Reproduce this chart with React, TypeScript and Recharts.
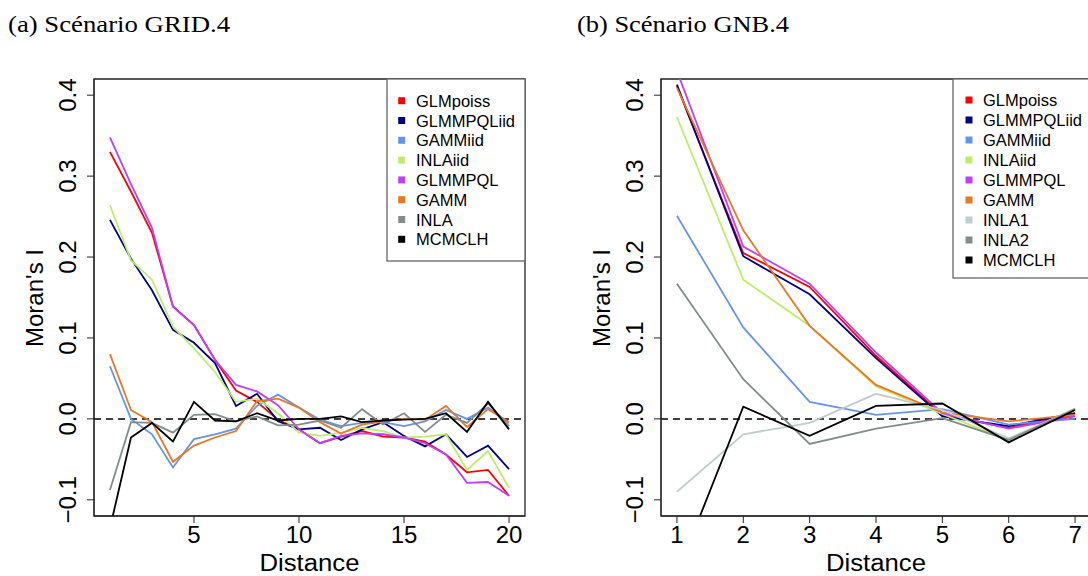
import React from 'react';
import { LineChart, Line, XAxis, YAxis, ReferenceLine, ReferenceArea } from 'recharts';

// ---------- Panel (a) : Scénario GRID.4 ----------
const distanceA = [1, 2, 3, 4, 5, 6, 7, 8, 9, 10, 11, 12, 13, 14, 15, 16, 17, 18, 19, 20];
const glmPoissA = [0.330, 0.281, 0.230, 0.139, 0.116, 0.073, 0.035, 0.021, -0.001, -0.013, -0.030, -0.022, -0.015, -0.022, -0.023, -0.028, -0.044, -0.066, -0.063, -0.095];
const glmmPqlIidA = [0.246, 0.198, 0.159, 0.110, 0.094, 0.069, 0.016, 0.031, -0.003, -0.013, -0.011, -0.026, -0.013, -0.004, -0.021, -0.034, -0.019, -0.047, -0.033, -0.062];
const gammIidA = [0.065, 0.000, -0.019, -0.060, -0.025, -0.019, -0.012, 0.016, 0.030, 0.014, -0.001, -0.009, -0.005, -0.004, -0.009, -0.003, 0.011, 0.000, 0.014, -0.005];
const inlaIidA = [0.264, 0.196, 0.172, 0.114, 0.087, 0.058, 0.021, 0.025, 0.007, -0.017, -0.021, -0.017, -0.011, -0.015, -0.023, -0.022, -0.019, -0.063, -0.040, -0.085];
const glmmPqlA = [0.348, 0.290, 0.236, 0.139, 0.116, 0.073, 0.042, 0.034, 0.017, -0.013, -0.030, -0.021, -0.018, -0.019, -0.023, -0.030, -0.044, -0.079, -0.078, -0.095];
const gammA = [0.080, 0.011, -0.004, -0.053, -0.033, -0.023, -0.015, 0.022, 0.025, 0.014, -0.004, -0.018, -0.007, -0.003, 0.000, -0.001, 0.016, -0.010, 0.012, -0.004];
const inlaA = [-0.088, -0.004, -0.005, -0.017, 0.005, 0.006, -0.003, 0.003, -0.008, -0.007, -0.002, -0.011, 0.012, -0.007, 0.007, -0.016, 0.005, -0.005, 0.019, -0.009];
const mcmclhA = [-0.135, -0.023, -0.005, -0.028, 0.021, -0.002, -0.003, 0.007, -0.002, 0.000, 0.000, 0.003, -0.004, -0.002, -0.001, 0.000, 0.007, -0.016, 0.021, -0.013];

// ---------- Panel (b) : Scénario GNB.4 ----------
const distanceB = [1, 2, 3, 4, 5, 6, 7];
const glmPoissB = [0.411, 0.205, 0.163, 0.078, 0.005, -0.011, 0.005];
const glmmPqlIidB = [0.413, 0.201, 0.154, 0.075, 0.003, -0.009, 0.007];
const gammIidB = [0.251, 0.113, 0.021, 0.005, 0.012, -0.007, 0.000];
const inlaIidB = [0.373, 0.172, 0.115, 0.040, 0.006, -0.026, 0.013];
const glmmPqlB = [0.430, 0.213, 0.167, 0.082, 0.007, -0.012, 0.003];
const gammB = [0.409, 0.233, 0.115, 0.042, 0.008, -0.003, 0.005];
const inla1B = [-0.090, -0.019, -0.005, 0.031, 0.011, -0.024, 0.012];
const inla2B = [0.167, 0.049, -0.031, -0.012, 0.001, -0.026, 0.012];
const mcmclhB = [-0.192, 0.015, -0.021, 0.016, 0.019, -0.029, 0.011];

const yTicks = [-0.1, 0.0, 0.1, 0.2, 0.3, 0.4];
const xTicksA = [5, 10, 15, 20];
const xTicksB = [1, 2, 3, 4, 5, 6, 7];

const titleA = '(a) Scénario GRID.4';
const titleB = '(b) Scénario GNB.4';
const yLabel = "Moran's I";
const xLabel = 'Distance';

type Series = { name: string; color: string; values: number[] };

const seriesA: Series[] = [
  { name: 'GLMpoiss', color: '#FF0000', values: glmPoissA },
  { name: 'GLMMPQLiid', color: '#00008B', values: glmmPqlIidA },
  { name: 'GAMMiid', color: '#6495ED', values: gammIidA },
  { name: 'INLAiid', color: '#BCEE68', values: inlaIidA },
  { name: 'GLMMPQL', color: '#BF3EFF', values: glmmPqlA },
  { name: 'GAMM', color: '#EE7621', values: gammA },
  { name: 'INLA', color: '#838B8B', values: inlaA },
  { name: 'MCMCLH', color: '#000000', values: mcmclhA },
];

const seriesB: Series[] = [
  { name: 'GLMpoiss', color: '#FF0000', values: glmPoissB },
  { name: 'GLMMPQLiid', color: '#00008B', values: glmmPqlIidB },
  { name: 'GAMMiid', color: '#6495ED', values: gammIidB },
  { name: 'INLAiid', color: '#BCEE68', values: inlaIidB },
  { name: 'GLMMPQL', color: '#BF3EFF', values: glmmPqlB },
  { name: 'GAMM', color: '#EE7621', values: gammB },
  { name: 'INLA1', color: '#C1CDCD', values: inla1B },
  { name: 'INLA2', color: '#838B8B', values: inla2B },
  { name: 'MCMCLH', color: '#000000', values: mcmclhB },
];

const buildRows = (dist: number[], series: Series[]) =>
  dist.map((d, i) => {
    const row: Record<string, number> = { d };
    series.forEach((s) => {
      row[s.name] = s.values[i];
    });
    return row;
  });

const rowsA = buildRows(distanceA, seriesA);
const rowsB = buildRows(distanceB, seriesB);

const AXIS_FONT = '"Liberation Sans", Arial, Helvetica, sans-serif';
const Y_DOMAIN: [number, number] = [-0.12, 0.42];

const fmtY = (v: number) => (v < 0 ? '\u2212' + Math.abs(v).toFixed(1) : v.toFixed(1));

const YTick = (props: any) => {
  const { x, y, payload } = props;
  return (
    <text
      transform={`translate(${x - 18},${y}) rotate(-90)`}
      textAnchor="middle"
      dy="0.36em"
      fontFamily={AXIS_FONT}
      fontSize={24}
      fill="#000"
    >
      {fmtY(payload.value)}
    </text>
  );
};

const XTick = (props: any) => {
  const { x, y, payload } = props;
  return (
    <text x={x} y={y + 18} textAnchor="middle" fontFamily={AXIS_FONT} fontSize={24} fill="#000">
      {String(payload.value)}
    </text>
  );
};

type PanelProps = {
  rows: Record<string, number>[];
  series: Series[];
  xDomain: [number, number];
  xTicks: number[];
  width: number;
  yAxisWidth: number;
  rightMargin: number;
};

const Panel = ({ rows, series, xDomain, xTicks, width, yAxisWidth, rightMargin }: PanelProps) => (
  <LineChart
    width={width}
    height={576}
    data={rows}
    margin={{ top: 79, left: 0, right: rightMargin, bottom: 0 }}
  >
    <XAxis
      dataKey="d"
      type="number"
      domain={xDomain}
      ticks={xTicks}
      allowDataOverflow
      height={60}
      tickSize={7}
      tickMargin={2}
      tick={<XTick />}
      stroke="#222"
      interval={0}
    />
    <YAxis
      type="number"
      domain={Y_DOMAIN}
      ticks={yTicks}
      allowDataOverflow
      width={yAxisWidth}
      tickSize={7}
      tickMargin={2}
      tick={<YTick />}
      stroke="#222"
      interval={0}
    />
    <ReferenceLine y={0} stroke="#000" strokeWidth={1.5} strokeDasharray="7 5" />
    {series.map((s) => (
      <Line
        key={s.name}
        type="linear"
        dataKey={s.name}
        stroke={s.color}
        strokeWidth={1.8}
        dot={false}
        activeDot={false}
        isAnimationActive={false}
      />
    ))}
    <ReferenceArea
      x1={xDomain[0]}
      x2={xDomain[1]}
      y1={Y_DOMAIN[0]}
      y2={Y_DOMAIN[1]}
      fill="none"
      fillOpacity={0}
      stroke="#222"
      strokeWidth={1.3}
      ifOverflow="visible"
    />
  </LineChart>
);

const LegendBox = ({
  series,
  x,
  y,
  w,
  h,
  firstY,
  step,
  squareX,
  textX,
}: {
  series: Series[];
  x: number;
  y: number;
  w: number;
  h: number;
  firstY: number;
  step: number;
  squareX: number;
  textX: number;
}) => (
  <g>
    <rect x={x} y={y} width={w} height={h} fill="#fff" stroke="#666" strokeWidth={1.3} />
    {series.map((s, i) => {
      const cy = firstY + i * step;
      return (
        <g key={s.name}>
          <rect x={squareX - 3.5} y={cy - 3.5} width={7} height={7} fill={s.color} />
          <text x={textX} y={cy + 6} fontFamily={AXIS_FONT} fontSize={16.5} fill="#000">
            {s.name}
          </text>
        </g>
      );
    })}
  </g>
);

export default function App() {
  return (
    <div
      style={{
        position: 'absolute',
        left: 0,
        top: 0,
        width: 1088,
        height: 576,
        overflow: 'hidden',
        background: '#fff',
      }}
    >
      <div style={{ position: 'absolute', left: 0, top: 0 }}>
        <Panel
          rows={rowsA}
          series={seriesA}
          xDomain={[0.24, 20.76]}
          xTicks={xTicksA}
          width={544}
          yAxisWidth={94}
          rightMargin={19}
        />
      </div>
      <div style={{ position: 'absolute', left: 544, top: 0 }}>
        <Panel
          rows={rowsB}
          series={seriesB}
          xDomain={[0.76, 7.24]}
          xTicks={xTicksB}
          width={560}
          yAxisWidth={117}
          rightMargin={13}
        />
      </div>
      <svg
        width={1088}
        height={576}
        style={{ position: 'absolute', left: 0, top: 0, pointerEvents: 'none' }}
      >
        <text
          x={8}
          y={32}
          fontFamily='"Liberation Serif", "DejaVu Serif", serif'
          fontSize={24}
          textLength={222}
          lengthAdjust="spacingAndGlyphs"
          fill="#000"
        >
          {titleA}
        </text>
        <text
          x={577}
          y={32}
          fontFamily='"Liberation Serif", "DejaVu Serif", serif'
          fontSize={24}
          textLength={212}
          lengthAdjust="spacingAndGlyphs"
          fill="#000"
        >
          {titleB}
        </text>
        <text
          transform="translate(43,298) rotate(-90)"
          textAnchor="middle"
          fontFamily={AXIS_FONT}
          fontSize={24}
          fill="#000"
        >
          {yLabel}
        </text>
        <text
          transform="translate(610,298) rotate(-90)"
          textAnchor="middle"
          fontFamily={AXIS_FONT}
          fontSize={24}
          fill="#000"
        >
          {yLabel}
        </text>
        <text
          x={309.5}
          y={571}
          textAnchor="middle"
          fontFamily={AXIS_FONT}
          fontSize={23}
          textLength={100}
          lengthAdjust="spacingAndGlyphs"
          fill="#000"
        >
          {xLabel}
        </text>
        <text
          x={876}
          y={571}
          textAnchor="middle"
          fontFamily={AXIS_FONT}
          fontSize={23}
          textLength={100}
          lengthAdjust="spacingAndGlyphs"
          fill="#000"
        >
          {xLabel}
        </text>
        <LegendBox
          series={seriesA}
          x={387}
          y={79}
          w={138}
          h={182}
          firstY={100.7}
          step={19.8}
          squareX={401.7}
          textX={416}
        />
        <LegendBox
          series={seriesB}
          x={953}
          y={79}
          w={200}
          h={199}
          firstY={100}
          step={20}
          squareX={969}
          textX={983}
        />
      </svg>
    </div>
  );
}
